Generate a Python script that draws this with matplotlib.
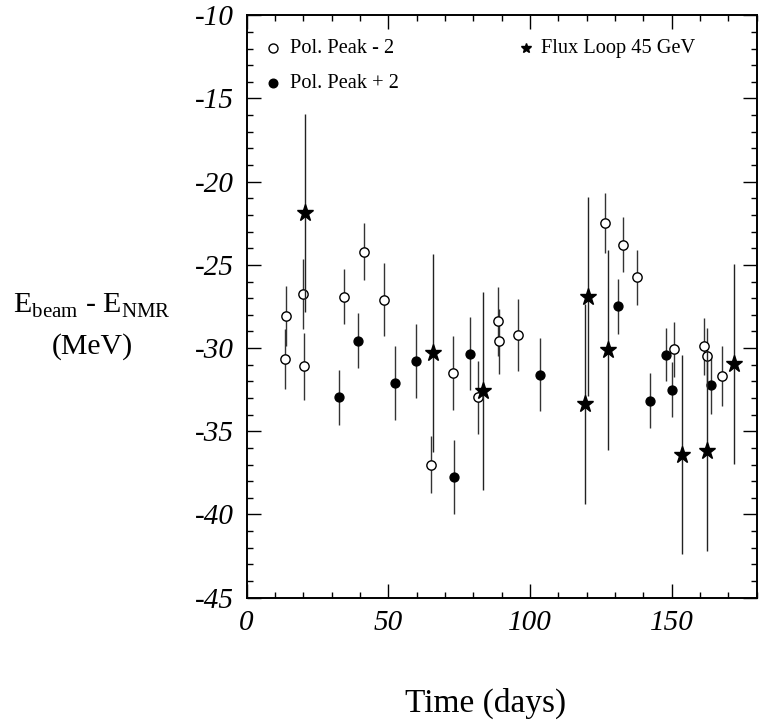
import matplotlib
matplotlib.use("Agg")
import matplotlib.pyplot as plt
from matplotlib.ticker import MultipleLocator

# Pol. Peak - 2 (open circles)
open_t = [13.4, 14.0, 19.8, 20.2, 34.2, 41.3, 48.5, 65.0, 72.9, 81.5, 88.8, 89.0,
          95.6, 126.6, 132.8, 137.8, 150.7, 161.5, 162.3, 167.7]
open_v = [-30.65, -28.07, -26.75, -31.1, -26.9, -24.2, -27.1, -37.0, -31.5, -32.95,
          -28.4, -29.6, -29.2, -22.5, -23.8, -25.75, -30.07, -29.9, -30.5, -31.7]
open_e = [1.8, 1.8, 2.1, 2.0, 1.65, 1.7, 2.2, 1.7, 2.2, 2.2, 2.1, 1.95, 2.15, 1.8,
          1.65, 1.65, 1.65, 1.7, 1.7, 1.8]

# Pol. Peak + 2 (filled circles)
fill_t = [32.6, 39.4, 52.5, 59.6, 73.2, 78.8, 103.6, 131.2, 142.5, 147.9, 150.1, 163.9]
fill_v = [-32.95, -29.55, -32.1, -30.77, -37.75, -30.33, -31.6, -27.5, -33.15, -30.4,
          -32.5, -32.2]
fill_e = [1.65, 1.65, 2.2, 2.2, 2.2, 2.2, 2.2, 1.65, 1.65, 1.6, 1.65, 1.75]

# Flux Loop 45 GeV (stars)
star_t = [20.5, 65.7, 83.5, 119.3, 120.4, 127.4, 153.6, 162.5, 172.1]
star_v = [-21.9, -30.3, -32.55, -33.37, -26.9, -30.1, -36.4, -36.17, -30.97]
star_e = [5.95, 5.95, 5.95, 6.0, 6.0, 6.0, 6.0, 6.0, 6.0]

legend_labels = ["Pol. Peak - 2", "Pol. Peak + 2", "Flux Loop 45 GeV"]
x_label = "Time (days)"
y_label = "E$_{\\mathregular{beam}}$ - E$_{\\mathregular{NMR}}$\n(MeV)"

plt.rcParams['font.family'] = ['Liberation Serif', 'DejaVu Serif']
plt.rcParams['mathtext.fontset'] = 'custom'
plt.rcParams['mathtext.rm'] = 'Liberation Serif'
plt.rcParams['axes.unicode_minus'] = False
plt.rcParams['xtick.labelsize'] = 21
plt.rcParams['ytick.labelsize'] = 21

fig = plt.figure(figsize=(7.59, 7.28), dpi=100)
ax = fig.add_axes([0.325, 0.179, 0.672, 0.800])

ax.errorbar(open_t, open_v, yerr=open_e, fmt='o', mfc='white', mec='black', mew=1.0,
            ms=6.7, ecolor='#333333', elinewidth=1.0, capsize=0, zorder=3)
ax.errorbar(fill_t, fill_v, yerr=fill_e, fmt='o', mfc='black', mec='black',
            ms=6.4, ecolor='#333333', elinewidth=1.0, capsize=0, zorder=3)
ax.errorbar(star_t, star_v, yerr=star_e, fmt='*', mfc='black', mec='black',
            ms=12.5, ecolor='#222222', elinewidth=1.0, capsize=0, zorder=4)

ax.set_xlim(0, 180)
ax.set_ylim(-45, -10)
ax.xaxis.set_major_locator(MultipleLocator(50))
ax.xaxis.set_minor_locator(MultipleLocator(10))
ax.yaxis.set_major_locator(MultipleLocator(5))
ax.yaxis.set_minor_locator(MultipleLocator(1))
ax.tick_params(which='both', direction='in', top=True, right=True, width=1.0)
ax.tick_params(which='major', length=10)
ax.tick_params(which='minor', length=4.5)
ax.tick_params(axis='x', pad=9)
ax.tick_params(axis='y', pad=9.5)
fig.canvas.draw()
for lab in ax.get_xticklabels() + ax.get_yticklabels():
    lab.set_fontstyle('italic')
for s in ax.spines.values():
    s.set_linewidth(1.4)

# legend (manual, in axes coordinates)
ax.plot([0.052], [0.9435], transform=ax.transAxes, marker='o', mfc='white', mec='black',
        ms=6.5, ls='none', clip_on=False)
ax.text(0.085, 0.9435, legend_labels[0], transform=ax.transAxes, fontsize=14.7, va='center')
ax.plot([0.052], [0.8835], transform=ax.transAxes, marker='o', mfc='black', mec='black',
        ms=6.2, ls='none', clip_on=False)
ax.text(0.085, 0.8835, legend_labels[1], transform=ax.transAxes, fontsize=14.7, va='center')
ax.plot([0.547], [0.9435], transform=ax.transAxes, marker='*', mfc='black', mec='black',
        ms=7, ls='none', clip_on=False)
ax.text(0.578, 0.9435, legend_labels[2], transform=ax.transAxes, fontsize=14.7, va='center')

fig.text(486 / 759, 1 - 703 / 728, x_label, fontsize=24, ha='center', va='center')
fig.text(92 / 759, 1 - 326 / 728, y_label, fontsize=21.5, ha='center', va='center',
         linespacing=1.6)

fig.savefig("out.png", dpi=100)
